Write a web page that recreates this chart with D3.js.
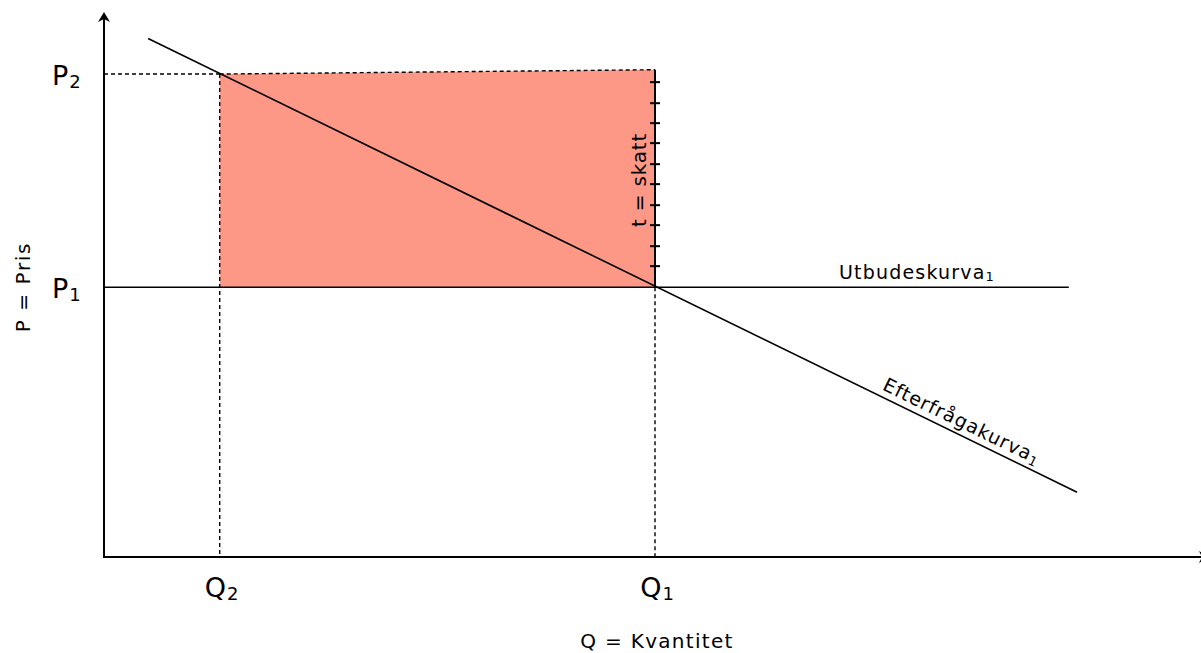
<!DOCTYPE html>
<html>
<head>
<meta charset="utf-8">
<script src="https://cdn.jsdelivr.net/npm/d3@7/dist/d3.min.js"></script>
<style>
html,body{margin:0;padding:0;background:#fff;overflow:hidden;}
svg{display:block;font-family:"DejaVu Sans",sans-serif;}
</style>
</head>
<body>
<svg id="chart" width="1201" height="653"></svg>
<script>
// ---- data ----
const quantities = { Q1: 10, Q2: 2.1 };
const priceLevels = [ {name:"P", sub:"1", value:5.0}, {name:"P", sub:"2", value:8.95} ];
const quantityLabels = [ {name:"Q", sub:"2", value:2.1}, {name:"Q", sub:"1", value:10} ];
const supplyCurve = [ {q:0, p:5.0}, {q:17.51, p:5.0} ];
const demandCurve = [ {q:0.8, p:9.61}, {q:17.66, p:1.2} ];
const taxArea = [ {q:2.1, p:8.95}, {q:10, p:9.03}, {q:10, p:5.0}, {q:2.1, p:5.0} ];
const taxTicks = [5.39, 5.76, 6.15, 6.52, 6.91, 7.28, 7.67, 8.04, 8.41, 8.80];
const axisDomainQ = [0, 20];
const axisDomainP = [0, 10.1];

// ---- scales ----
const x = d3.scaleLinear().domain(axisDomainQ).range([104, 1206]);
const y = d3.scaleLinear().domain(axisDomainP).range([557, 12]);

const svg = d3.select("#chart");
const line = d3.line().x(d => x(d.q)).y(d => y(d.p));

// tax area
svg.append("path")
  .attr("d", line(taxArea) + "Z")
  .attr("fill", "#fe9886");

// dashed guides
const P1 = priceLevels[0].value, P2 = priceLevels[1].value;
const dash = "4,3";
function dashed(x1, y1, x2, y2) {
  svg.append("line").attr("x1", x1).attr("x2", x2).attr("y1", y1).attr("y2", y2)
    .attr("stroke", "#000").attr("stroke-width", 1.4).attr("stroke-dasharray", dash);
}
dashed(x(0), y(P2), x(quantities.Q2), y(P2));
dashed(x(quantities.Q2), y(taxArea[0].p), x(quantities.Q1), y(taxArea[1].p));
dashed(x(quantities.Q2), y(P2), x(quantities.Q2), y(0));
dashed(x(quantities.Q1), y(P1), x(quantities.Q1), y(0));

// tax bar (solid) with ticks
svg.append("line").attr("x1", x(quantities.Q1)).attr("x2", x(quantities.Q1))
  .attr("y1", y(taxArea[1].p)).attr("y2", y(P1))
  .attr("stroke", "#000").attr("stroke-width", 2);
svg.selectAll("line.tick").data(taxTicks).join("line")
  .attr("class", "tick")
  .attr("x1", x(quantities.Q1) - 5).attr("x2", x(quantities.Q1) + 5)
  .attr("y1", d => y(d)).attr("y2", d => y(d))
  .attr("stroke", "#000").attr("stroke-width", 2);

// supply & demand
svg.append("path").attr("d", line(supplyCurve)).attr("stroke", "#000")
  .attr("stroke-width", 1.6).attr("fill", "none");
svg.append("path").attr("d", line(demandCurve)).attr("stroke", "#000")
  .attr("stroke-width", 1.6).attr("fill", "none");

// axes
svg.append("line").attr("x1", x(0)).attr("x2", x(0)).attr("y1", y(0)).attr("y2", y(axisDomainP[1]) + 2)
  .attr("stroke", "#000").attr("stroke-width", 2);
svg.append("line").attr("x1", x(0) - 1).attr("x2", x(axisDomainQ[1]) - 2).attr("y1", y(0)).attr("y2", y(0))
  .attr("stroke", "#000").attr("stroke-width", 2);
// arrowheads
const ax = x(0), ay = y(axisDomainP[1]);
svg.append("path")
  .attr("d", `M${ax},${ay} L${ax+6},${ay+10} L${ax},${ay+7} L${ax-6},${ay+10} Z`)
  .attr("fill", "#000");
const bx = x(axisDomainQ[1]) + 3, by = y(0);
svg.append("path")
  .attr("d", `M${bx},${by} L${bx-10},${by-6} L${bx-7},${by} L${bx-10},${by+6} Z`)
  .attr("fill", "#000");

// labels: price levels
priceLevels.forEach(d => {
  const t = svg.append("text").attr("x", 52).attr("y", y(d.value) + 11)
    .attr("font-size", 27).attr("fill", "#000");
  t.append("tspan").text(d.name);
  t.append("tspan").attr("font-size", 18).attr("dx", 1).attr("dy", 3).text(d.sub);
});
// quantity labels
quantityLabels.forEach(d => {
  const t = svg.append("text").attr("x", x(d.value) + 2).attr("y", y(0) + 40)
    .attr("font-size", 27).attr("fill", "#000").attr("text-anchor", "middle");
  t.append("tspan").text(d.name);
  t.append("tspan").attr("font-size", 18).attr("dx", 1).attr("dy", 3).text(d.sub);
});

// axis titles
svg.append("text").attr("x", 657).attr("y", 648).attr("text-anchor", "middle")
  .attr("font-size", 20).attr("letter-spacing", 1.3).text("Q = Kvantitet");
svg.append("text").attr("transform", `translate(30,${y(P1)}) rotate(-90)`)
  .attr("text-anchor", "middle").attr("font-size", 20).attr("letter-spacing", 1.6).text("P = Pris");

// curve labels
const ut = svg.append("text").attr("x", 917).attr("y", y(P1) - 8).attr("text-anchor", "middle")
  .attr("font-size", 19).attr("letter-spacing", 1.2);
ut.append("tspan").text("Utbudeskurva");
ut.append("tspan").attr("font-size", 13).attr("dy", 2).text("1");

svg.append("text").attr("transform", `translate(${x(quantities.Q1) - 9},180) rotate(-90)`)
  .attr("text-anchor", "middle").attr("font-size", 20).attr("letter-spacing", 0.8).text("t = skatt");

const angle = Math.atan2(y(demandCurve[1].p) - y(demandCurve[0].p), x(demandCurve[1].q) - x(demandCurve[0].q)) * 180 / Math.PI;
const lq = 15.5;
const lp = demandCurve[0].p + (lq - demandCurve[0].q) * (demandCurve[1].p - demandCurve[0].p) / (demandCurve[1].q - demandCurve[0].q);
const ef = svg.append("text").attr("transform", `translate(${x(lq) + 1},${y(lp) - 7}) rotate(${angle})`)
  .attr("text-anchor", "middle").attr("font-size", 19).attr("letter-spacing", 1.0);
ef.append("tspan").text("Efterfrågakurva");
ef.append("tspan").attr("font-size", 13).attr("dy", 3).text("1");
</script>
</body>
</html>
